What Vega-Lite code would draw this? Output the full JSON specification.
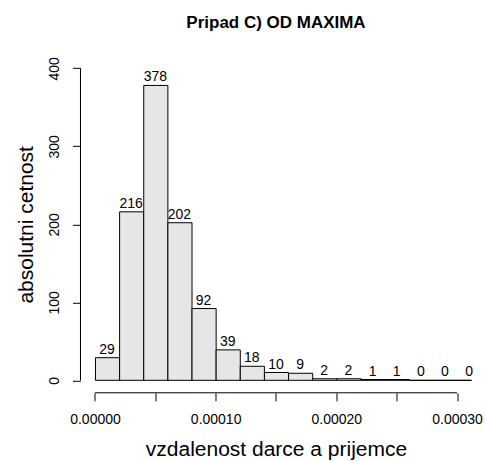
{
  "$schema": "https://vega.github.io/schema/vega-lite/v6.json",
  "autosize": {"type": "none"},
  "width": 391,
  "height": 337,
  "padding": {"left": 80.5, "top": 55.8, "right": 13.7, "bottom": 68.5},
  "background": "white",
  "config": {"view": {"stroke": null}, "font": "Liberation Sans"},
  "title": {"text": "Pripad C) OD MAXIMA", "font": "Liberation Sans", "fontSize": 17, "fontWeight": "bold", "color": "black", "anchor": "middle", "frame": "group", "baseline": "alphabetic", "offset": 11},
  "data": {"values": [
    {"bin_start": 0.00000, "bin_end": 0.00002, "count": 29},
    {"bin_start": 0.00002, "bin_end": 0.00004, "count": 216},
    {"bin_start": 0.00004, "bin_end": 0.00006, "count": 378},
    {"bin_start": 0.00006, "bin_end": 0.00008, "count": 202},
    {"bin_start": 0.00008, "bin_end": 0.00010, "count": 92},
    {"bin_start": 0.00010, "bin_end": 0.00012, "count": 39},
    {"bin_start": 0.00012, "bin_end": 0.00014, "count": 18},
    {"bin_start": 0.00014, "bin_end": 0.00016, "count": 10},
    {"bin_start": 0.00016, "bin_end": 0.00018, "count": 9},
    {"bin_start": 0.00018, "bin_end": 0.00020, "count": 2},
    {"bin_start": 0.00020, "bin_end": 0.00022, "count": 2},
    {"bin_start": 0.00022, "bin_end": 0.00024, "count": 1},
    {"bin_start": 0.00024, "bin_end": 0.00026, "count": 1},
    {"bin_start": 0.00026, "bin_end": 0.00028, "count": 0},
    {"bin_start": 0.00028, "bin_end": 0.00030, "count": 0},
    {"bin_start": 0.00030, "bin_end": 0.00032, "count": 0}
  ]},
  "layer": [
    {
      "mark": {"type": "bar", "fill": "#E6E6E6", "stroke": "black", "strokeWidth": 1, "binSpacing": 0, "clip": true},
      "encoding": {
        "x": {"field": "bin_start", "type": "quantitative", "bin": "binned",
          "scale": {"domain": [-0.000012, 0.000312], "nice": false, "zero": false},
          "axis": {"values": [0, 0.00005, 0.0001, 0.00015, 0.0002, 0.00025, 0.0003], "labelExpr": "indexof([0,2,4,6], round(datum.value*20000)) >= 0 ? format(datum.value, '.5f') : ''",
            "domain": false, "grid": false, "tickColor": "black", "tickSize": 8, "tickWidth": 1,
            "labelFont": "Liberation Sans", "labelFontSize": 14, "labelColor": "black", "labelBaseline": "alphabetic", "labelPadding": 23, "labelOverlap": false, "labelFlush": false,
            "title": "vzdalenost darce a prijemce", "titleFont": "Liberation Sans", "titleFontSize": 21, "titleFontWeight": "normal", "titleColor": "black", "titleBaseline": "alphabetic", "titleY": 62.5}},
        "x2": {"field": "bin_end"},
        "y": {"field": "count", "type": "quantitative",
          "scale": {"domain": [-16, 416], "nice": false, "zero": false},
          "axis": {"values": [0, 100, 200, 300, 400], "domain": false, "grid": false, "tickColor": "black", "tickSize": 8, "tickWidth": 1,
            "labelFont": "Liberation Sans", "labelFontSize": 14, "labelColor": "black", "labelAngle": -90, "labelAlign": "center", "labelBaseline": "alphabetic", "labelPadding": 14,
            "title": "absolutni cetnost", "titleFont": "Liberation Sans", "titleFontSize": 21, "titleFontWeight": "normal", "titleColor": "black", "titleBaseline": "alphabetic", "titleX": -47.5}},
        "y2": {"datum": 0}
      }
    },
    {
      "mark": {"type": "text", "font": "Liberation Sans", "fontSize": 14, "color": "black", "baseline": "alphabetic", "align": "center", "dy": -4, "dx": 12.06},
      "encoding": {
        "x": {"field": "bin_start", "type": "quantitative"},
        "y": {"field": "count", "type": "quantitative"},
        "text": {"field": "count", "type": "quantitative"}
      }
    },
    {
      "data": {"values": [{}]},
      "mark": {"type": "rule", "color": "black", "strokeWidth": 1},
      "encoding": {"x": {"datum": 0}, "x2": {"datum": 0.0003}, "y": {"datum": -16}}
    },
    {
      "data": {"values": [{}]},
      "mark": {"type": "rule", "color": "black", "strokeWidth": 1},
      "encoding": {"x": {"datum": -0.000012}, "y": {"datum": 0}, "y2": {"datum": 400}}
    }
  ]
}
